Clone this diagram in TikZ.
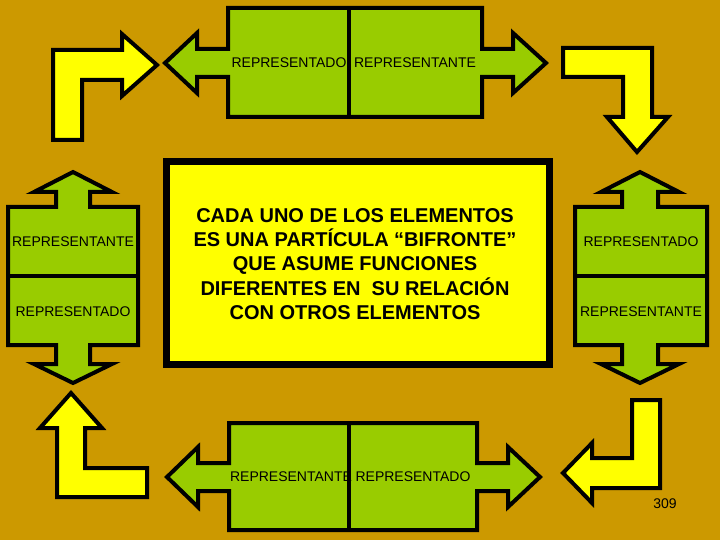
\documentclass[tikz,border=0pt]{standalone}
\usepackage{fontspec}
\setmainfont{Liberation Sans}
\usepackage{xcolor}
\definecolor{gold}{HTML}{CC9900}
\definecolor{leaf}{HTML}{99CC00}
\definecolor{lemon}{HTML}{FFFF00}

\begin{document}
\begin{tikzpicture}[x=1pt,y=-1pt,line join=miter,
  greenbox/.style={fill=leaf,draw=black,line width=4pt},
  bendarrow/.style={fill=lemon,draw=black,line width=4pt},
  label/.style={font=\fontsize{14}{16}\selectfont,inner sep=0pt},
  every node/.style={text=black}]
\fill[gold] (0,0) rectangle (720,540);
\useasboundingbox (0,0) rectangle (720,540);
\draw[greenbox] (165,63) -- (197,33) -- (197,49) -- (228,49) -- (228,8) -- (482,8) -- (482,49) -- (513,49) -- (513,33) -- (546,63) -- (513,93) -- (513,77) -- (482,77) -- (482,117) -- (228,117) -- (228,77) -- (197,77) -- (197,93) -- cycle;
\draw[line width=4pt] (349,8) -- (349,117);
\node[label] (topleft) at (289,63) {REPRESENTADO};
\node[label] (topright) at (415,63) {REPRESENTANTE};
\draw[greenbox] (167,477) -- (198,447) -- (198,463) -- (229,463) -- (229,423) -- (477,423) -- (477,463) -- (508,463) -- (508,447) -- (540,477) -- (508,507) -- (508,491) -- (477,491) -- (477,530) -- (229,530) -- (229,491) -- (198,491) -- (198,507) -- cycle;
\draw[line width=4pt] (349,423) -- (349,530);
\node[label] (botleft) at (291,477) {REPRESENTANTE};
\node[label] (botright) at (413,477) {REPRESENTADO};
\draw[greenbox] (73,172) -- (112,192) -- (90,192) -- (90,207) -- (138,207) -- (138,345) -- (90,345) -- (90,364) -- (112,364) -- (73,383) -- (34,364) -- (56,364) -- (56,345) -- (8,345) -- (8,207) -- (56,207) -- (56,192) -- (34,192) -- cycle;
\draw[line width=4pt] (8,276) -- (138,276);
\node[label] (lefttop) at (73,242) {REPRESENTANTE};
\node[label] (leftbot) at (73,312) {REPRESENTADO};
\draw[greenbox] (640,172) -- (679,192) -- (658,192) -- (658,207) -- (707,207) -- (707,345) -- (658,345) -- (658,364) -- (679,364) -- (640,383) -- (601,364) -- (622,364) -- (622,345) -- (575,345) -- (575,207) -- (622,207) -- (622,192) -- (601,192) -- cycle;
\draw[line width=4pt] (575,276) -- (707,276);
\node[label] (righttop) at (641,242) {REPRESENTADO};
\node[label] (rightbot) at (641,312) {REPRESENTANTE};
\draw[bendarrow] (53,140) -- (53,50) -- (122,50) -- (122,34) -- (157,65) -- (122,96) -- (122,80) -- (82,80) -- (82,140) -- cycle;
\draw[bendarrow] (563,48) -- (652,48) -- (652,117) -- (668,117) -- (637,152) -- (607,117) -- (623,117) -- (623,77) -- (563,77) -- cycle;
\draw[bendarrow] (57,497) -- (57,428) -- (40,428) -- (71,393) -- (102,428) -- (85,428) -- (85,468) -- (147,468) -- (147,497) -- cycle;
\draw[bendarrow] (660,400) -- (660,488) -- (592,488) -- (592,503) -- (563,473) -- (592,443) -- (592,458) -- (632,458) -- (632,400) -- cycle;
\draw[fill=lemon,line width=7pt] (166.5,161.5) rectangle (549.5,364.5);
\node[align=center,font=\fontsize{20}{24.4}\selectfont\bfseries,inner sep=0pt] (claim) at (355,264) {CADA UNO DE LOS ELEMENTOS\\ES UNA PARTÍCULA “BIFRONTE”\\QUE ASUME FUNCIONES\\DIFERENTES EN\ \ SU RELACIÓN\\CON OTROS ELEMENTOS};
\node[label] (page) at (665,504) {309};
\end{tikzpicture}
\end{document}
